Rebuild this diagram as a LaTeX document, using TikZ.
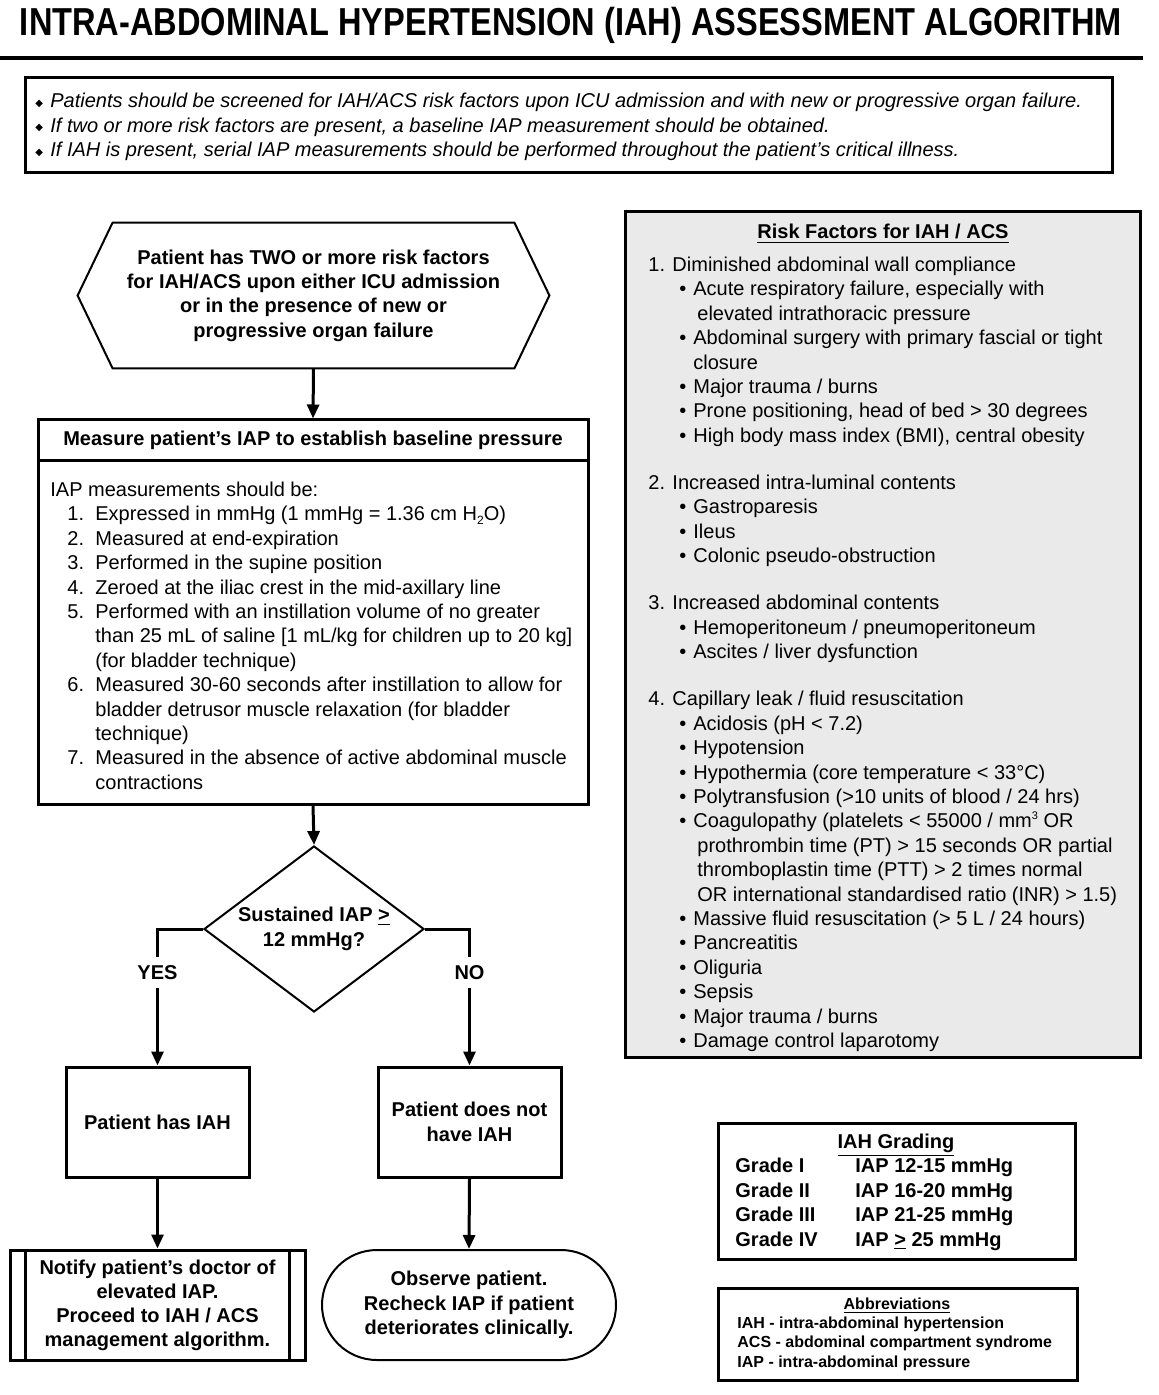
\documentclass[tikz,border=0pt]{standalone}
\usepackage{fontspec}
\setmainfont{Liberation Sans}
\newfontfamily\symfont{DejaVu Sans}
\usepackage{graphicx}
\usepackage{tikz}
\usetikzlibrary{arrows.meta,shapes.geometric,shapes.misc}

\definecolor{rfgray}{RGB}{234,234,234}

\newcommand{\ibul}{\makebox[7.5pt][l]{\raisebox{0.6pt}{\symfont\fontsize{5}{5}\selectfont ◆}}}
\newcommand{\rbul}{\hspace*{15.5pt}\makebox[7pt][l]{•}}
\newcommand{\rinda}{\hspace*{22.5pt}}
\newcommand{\rindb}{\hspace*{24.5pt}}
\newcommand{\mnum}[1]{\hspace*{8.5pt}\makebox[14pt][l]{#1}}
\newcommand{\mind}{\hspace*{22.5pt}}
\newcommand{\smsub}[1]{\raisebox{-1.6pt}{\fontsize{6}{6}\selectfont #1}}
\newcommand{\smsup}[1]{\raisebox{4pt}{\fontsize{5.5}{6}\selectfont #1}}

\begin{document}
\begin{tikzpicture}[x=0.5pt,y=-0.5pt]
\tikzstyle{every node}=[inner sep=0pt];
\tikzstyle{box}=[draw,rectangle,line width=1.5pt,align=center,font=\fontsize{10}{12.2}\selectfont\bfseries];
\tikzstyle{panel}=[draw,rectangle,line width=1.5pt];
\tikzstyle{txt}=[anchor=north west,align=left,font=\fontsize{10}{12.2}\selectfont];
\tikzstyle{flow}=[line width=1.5pt,-{Triangle[length=7pt,width=6pt]}];
\tikzstyle{lbl}=[fill=white,font=\fontsize{10}{12.2}\selectfont\bfseries,inner xsep=2pt,inner ysep=4pt,text height=7.2pt,text depth=0pt];
\useasboundingbox (0,0) rectangle (1159,1395);

% title and rule
\path (571,36) node[anchor=base,font=\fontsize{19.5}{20}\selectfont\bfseries] (title)
  {\resizebox{551pt}{\height}{INTRA-ABDOMINAL HYPERTENSION (IAH) ASSESSMENT ALGORITHM}};
\draw[line width=2.2pt] (0,58) -- (1143,58);

% screening notes
\path (568.5,125.5) node[panel,minimum width=543.5pt,minimum height=47.5pt] (info) {};
\path (35,90) node[txt,font=\fontsize{10}{12.25}\selectfont\itshape] (infotxt)
  {\strut\ibul Patients should be screened for IAH/ACS risk factors upon ICU admission and with new or progressive organ failure.\\
   \ibul If two or more risk factors are present, a baseline IAP measurement should be obtained.\\
   \ibul If IAH is present, serial IAP measurements should be performed throughout the patient’s critical illness.};

% flow chart
\path (313.5,295.5) node[minimum width=235.5pt,minimum height=72.5pt,align=center,font=\fontsize{10}{12.2}\selectfont\bfseries] (hex)
  {Patient has TWO or more risk factors\\for IAH/ACS upon either ICU admission\\or in the presence of new or\\progressive organ failure};
\draw[line width=1pt] (hex.west) -- ([xshift=17.5pt]hex.north west) -- ([xshift=-17.5pt]hex.north east)
  -- (hex.east) -- ([xshift=-17.5pt]hex.south east) -- ([xshift=17.5pt]hex.south west) -- cycle;

\path (313,440) node[box,minimum width=275pt,minimum height=20pt] (meashead)
  {Measure patient’s IAP to establish baseline pressure};
\path (313,632) node[panel,minimum width=275pt,minimum height=172pt] (measbody) {};
\path (50,479) node[txt] (meastxt)
  {\strut IAP measurements should be:\\
   \mnum{1.}Expressed in mmHg (1 mmHg = 1.36 cm H\smsub{2}O)\\
   \mnum{2.}Measured at end-expiration\\
   \mnum{3.}Performed in the supine position\\
   \mnum{4.}Zeroed at the iliac crest in the mid-axillary line\\
   \mnum{5.}Performed with an instillation volume of no greater\\
   \mind than 25 mL of saline [1 mL/kg for children up to 20 kg]\\
   \mind (for bladder technique)\\
   \mnum{6.}Measured 30-60 seconds after instillation to allow for\\
   \mind bladder detrusor muscle relaxation (for bladder\\
   \mind technique)\\
   \mnum{7.}Measured in the absence of active abdominal muscle\\
   \mind contractions};

\path (314,929) node[diamond,draw,line width=1pt,shape aspect=1.33,minimum width=110pt,minimum height=83pt,align=center,font=\fontsize{10}{12.2}\selectfont\bfseries] (dia)
  {Sustained IAP \underline{>}\\12 mmHg?};

\path (157.5,1122) node[box,minimum width=91.5pt,minimum height=55pt] (hasiah) {Patient has IAH};
\path (469.5,1122) node[box,minimum width=91.5pt,minimum height=55pt] (noiah) {Patient does not\\have IAH};

\path (157.5,1305) node[box,minimum width=147.5pt,minimum height=55pt,font=\fontsize{10}{12}\selectfont\bfseries] (notify)
  {Notify patient’s doctor of\\elevated IAP.\\Proceed to IAH / ACS\\management algorithm.};
\draw[line width=1.5pt] ([xshift=8.5pt]notify.north west) -- ([xshift=8.5pt]notify.south west);
\draw[line width=1.5pt] ([xshift=-8.5pt]notify.north east) -- ([xshift=-8.5pt]notify.south east);
\path (469,1305) node[rounded rectangle,draw,line width=1pt,minimum width=147pt,minimum height=55pt,align=center,font=\fontsize{10}{12.2}\selectfont\bfseries] (observe)
  {Observe patient.\\Recheck IAP if patient\\deteriorates clinically.};

\draw[flow] (hex.south) -- (meashead.north);
\draw[flow] (measbody.south) -- (dia.north);
\draw[flow] (dia.west) -| node[lbl,pos=0.66] (yes) {YES} (hasiah.north);
\draw[flow] (dia.east) -| node[lbl,pos=0.66] (no) {NO} (noiah.north);
\draw[flow] (hasiah.south) -- (notify.north);
\draw[flow] (noiah.south) -- (observe.north);

% risk factors
\path (882.5,634.5) node[panel,fill=rfgray,minimum width=257.5pt,minimum height=422.5pt] (risk) {};
\path (883,239) node[anchor=base,font=\fontsize{10}{12.2}\selectfont\bfseries] (risktitle) {\underline{Risk Factors for IAH / ACS}};
\path (648,254) node[txt] (risktxt)
  {\strut 1. Diminished abdominal wall compliance\\
   \rbul Acute respiratory failure, especially with\\
   \rindb elevated intrathoracic pressure\\
   \rbul Abdominal surgery with primary fascial or tight\\
   \rinda closure\\
   \rbul Major trauma / burns\\
   \rbul Prone positioning, head of bed > 30 degrees\\
   \rbul High body mass index (BMI), central obesity\\[11.4pt]
   2. Increased intra-luminal contents\\
   \rbul Gastroparesis\\
   \rbul Ileus\\
   \rbul Colonic pseudo-obstruction\\[11.4pt]
   3. Increased abdominal contents\\
   \rbul Hemoperitoneum / pneumoperitoneum\\
   \rbul Ascites / liver dysfunction\\[11.4pt]
   4. Capillary leak / fluid resuscitation\\
   \rbul Acidosis (pH < 7.2)\\
   \rbul Hypotension\\
   \rbul Hypothermia (core temperature < 33°C)\\
   \rbul Polytransfusion (>10 units of blood / 24 hrs)\\
   \rbul Coagulopathy (platelets < 55000 / mm\smsup{3} OR\\
   \rindb prothrombin time (PT) > 15 seconds OR partial\\
   \rindb thromboplastin time (PTT) > 2 times normal\\
   \rindb OR international standardised ratio (INR) > 1.5)\\
   \rbul Massive fluid resuscitation (> 5 L / 24 hours)\\
   \rbul Pancreatitis\\
   \rbul Oliguria\\
   \rbul Sepsis\\
   \rbul Major trauma / burns\\
   \rbul Damage control laparotomy};

% grading
\path (896.5,1191) node[panel,minimum width=178.5pt,minimum height=68pt] (grade) {};
\path (896,1148) node[anchor=base,font=\fontsize{10}{12.2}\selectfont\bfseries] (gradetitle) {\underline{IAH Grading}};
\path (735,1155) node[txt,font=\fontsize{10}{12.25}\selectfont\bfseries] (gradetxt)
  {\strut\makebox[60pt][l]{Grade I}IAP 12-15 mmHg\\
   \makebox[60pt][l]{Grade II}IAP 16-20 mmHg\\
   \makebox[60pt][l]{Grade III}IAP 21-25 mmHg\\
   \makebox[60pt][l]{Grade IV}IAP \underline{>} 25 mmHg};

% abbreviations
\path (897.5,1334) node[panel,minimum width=179.5pt,minimum height=46pt] (abbr) {};
\path (897,1309) node[anchor=base,font=\fontsize{8}{9.75}\selectfont\bfseries] (abbrtitle) {\underline{Abbreviations}};
\path (737,1314) node[txt,font=\fontsize{8}{9.75}\selectfont\bfseries] (abbrtxt)
  {\strut IAH - intra-abdominal hypertension\\
   ACS - abdominal compartment syndrome\\
   IAP - intra-abdominal pressure};
\end{tikzpicture}
\end{document}
